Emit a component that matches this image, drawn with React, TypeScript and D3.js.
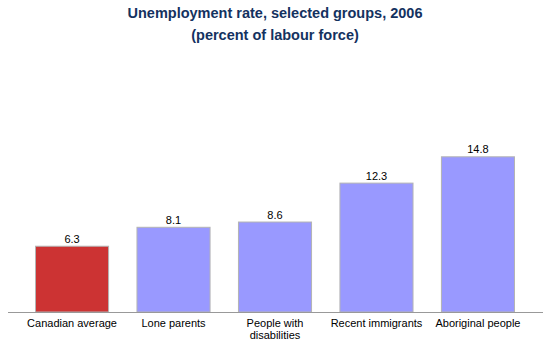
import React from "react";
import * as d3 from "d3";

const categories = ["Canadian average", "Lone parents", "People with|disabilities", "Recent immigrants", "Aboriginal people"];
const values = [6.3, 8.1, 8.6, 12.3, 14.8];
const highlight = [true, false, false, false, false];
const titleLines = ["Unemployment rate, selected groups, 2006", "(percent of labour force)"];

export default function App() {
  const W = 550, H = 350;
  const x = d3.scaleBand<string>().domain(categories).range([21.3, 528.7]).paddingInner(0.27).paddingOuter(0.135);
  const y = d3.scaleLinear().domain([0, 14.8]).range([312, 156.3]);
  const font = "Liberation Sans, Arial, sans-serif";
  return (
    <svg width={W} height={H} style={{ position: "absolute", left: 0, top: 0, background: "#fff" }}>
      {titleLines.map((t, i) => (
        <text key={i} x={275} y={18 + i * 22} textAnchor="middle" fontFamily={font} fontWeight="bold" fontSize={14.5} fill="#14325f">{t}</text>
      ))}
      {values.map((v, i) => {
        const c = categories[i];
        const x0 = x(c)!;
        return (
          <g key={c}>
            <rect x={x0 + 0.5} y={y(v) + 0.5} width={x.bandwidth() - 1} height={y(0) - y(v) - 0.5}
              fill={highlight[i] ? "#cc3333" : "#9999ff"} stroke="#b4b4b4" strokeWidth={1} />
            <text x={x0 + x.bandwidth() / 2} y={y(v) - 3} textAnchor="middle" fontFamily={font} fontSize={11} fill="#000">{v.toFixed(1)}</text>
            {c.split("|").map((l, j) => (
              <text key={j} x={x0 + x.bandwidth() / 2} y={327 + j * 12} textAnchor="middle" fontFamily={font} fontSize={11} fill="#000">{l}</text>
            ))}
          </g>
        );
      })}
      <line x1={8} x2={543} y1={y(0) + 0.5} y2={y(0) + 0.5} stroke="#999999" strokeWidth={1} />
    </svg>
  );
}
